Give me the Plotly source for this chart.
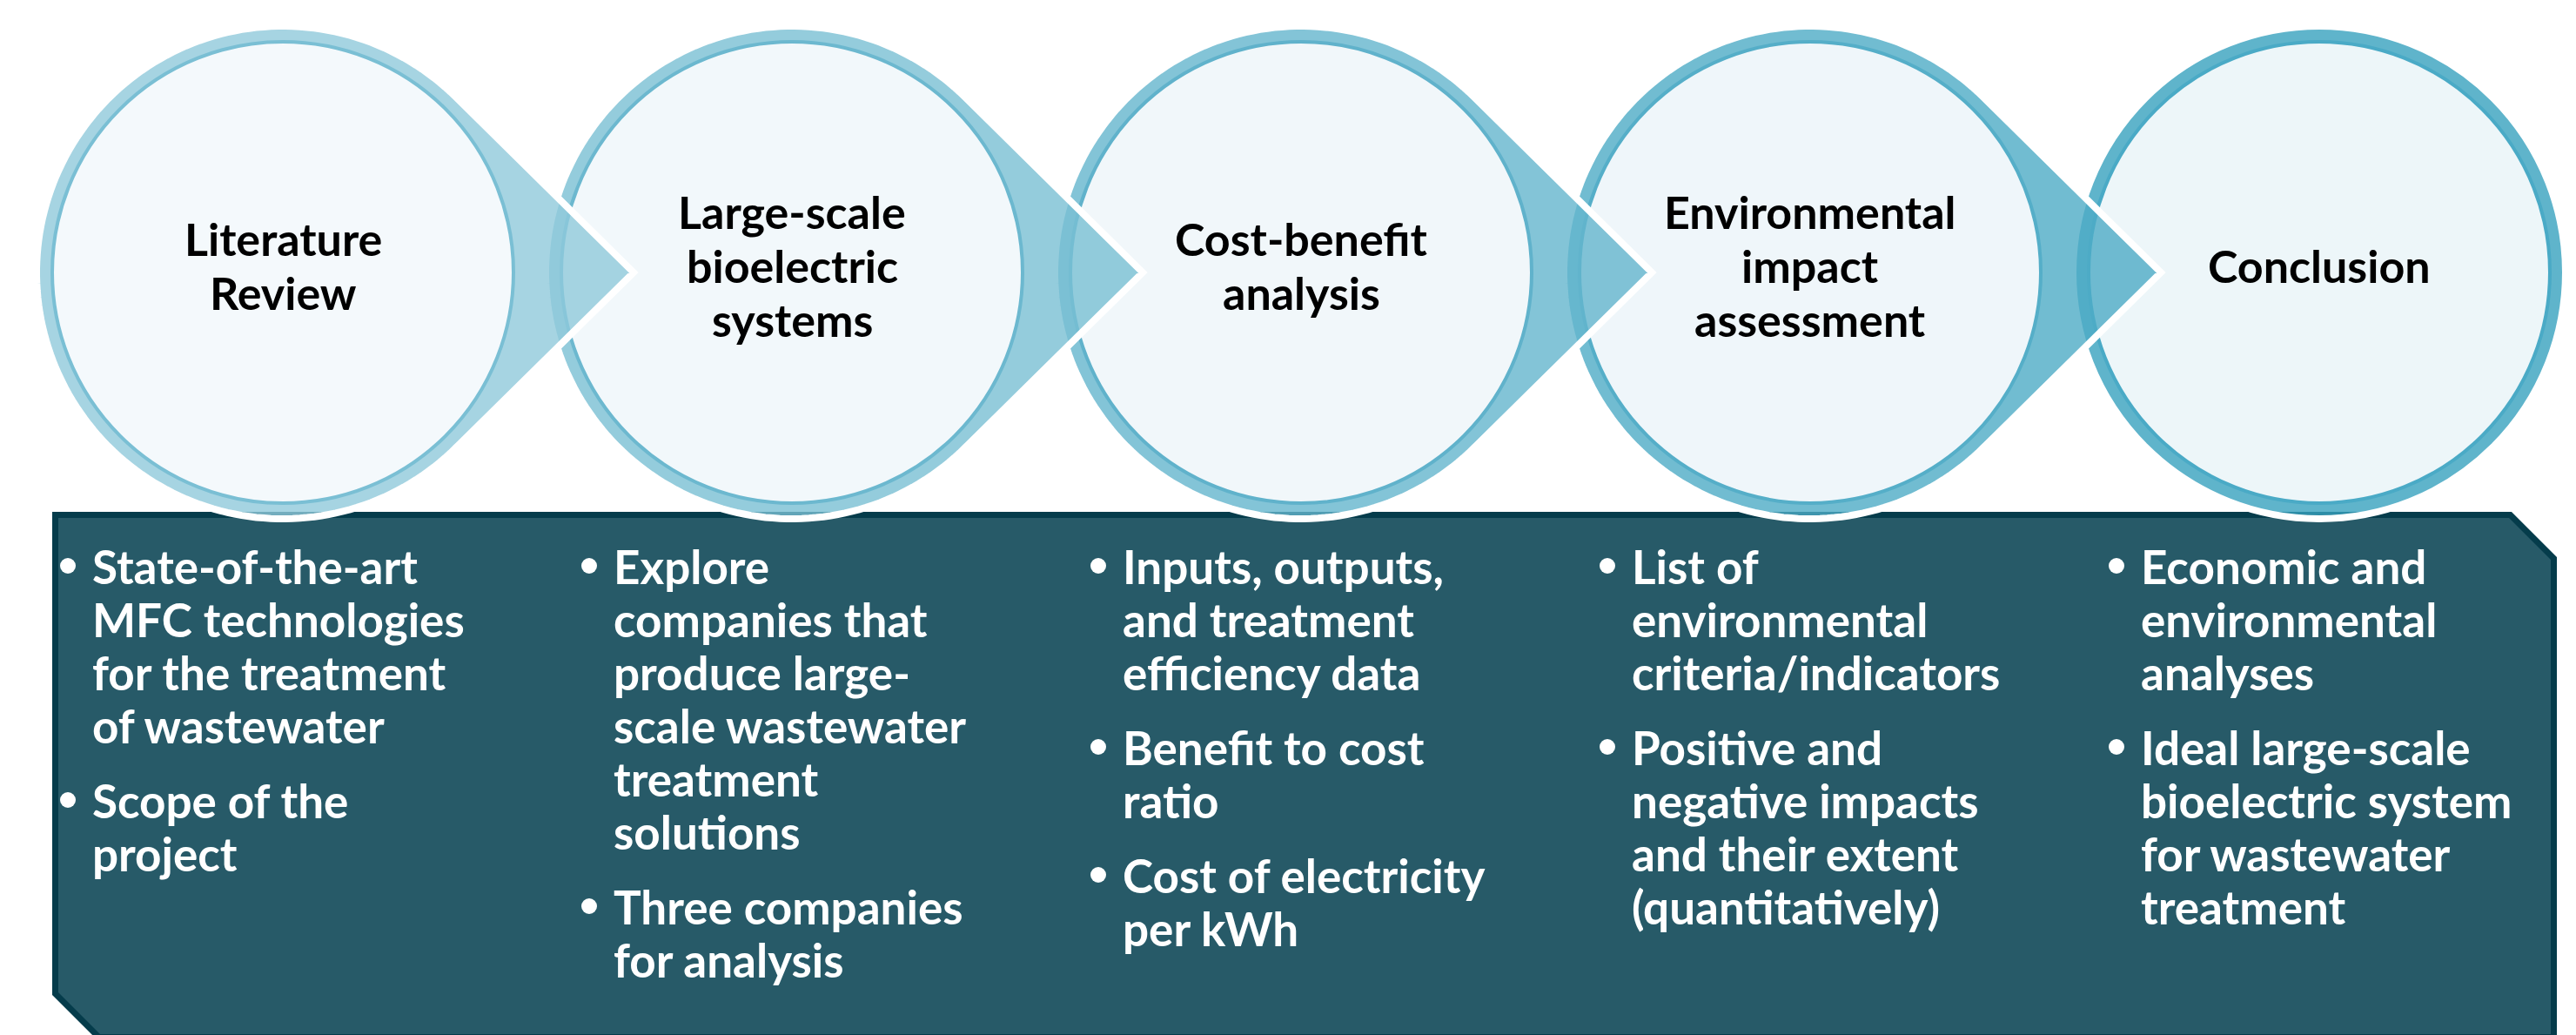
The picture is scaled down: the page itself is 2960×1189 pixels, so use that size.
import numpy as np
import plotly.graph_objects as go


#
# data
#

stages = [["Literature", "Review"],
          ["Large-scale", "bioelectric", "systems"],
          ["Cost-benefit", "analysis"],
          ["Environmental", "impact", "assessment"],
          ["Conclusion"]]

# bullet items per stage, each item is a list of wrapped lines
items_1 = [["State-of-the-art", "MFC technologies", "for the treatment", "of wastewater"],
           ["Scope of the", "project"]]
items_2 = [["Explore", "companies that", "produce large-", "scale wastewater", "treatment", "solutions"],
           ["Three companies", "for analysis"]]
items_3 = [["Inputs, outputs,", "and treatment", "efficiency data"],
           ["Benefit to cost", "ratio"],
           ["Cost of electricity", "per kWh"]]
items_4 = [["List of", "environmental", "criteria/indicators"],
           ["Positive and", "negative impacts", "and their extent", "(quantitatively)"]]
items_5 = [["Economic and", "environmental", "analyses"],
           ["Ideal large-scale", "bioelectric system", "for wastewater", "treatment"]]
items = [items_1, items_2, items_3, items_4, items_5]

ring_colors = [(166, 212, 226), (148, 204, 220), (131, 196, 215), (113, 188, 209), (95, 180, 203)]
edge_colors = [(122, 191, 212), (108, 184, 207), (96, 178, 203), (85, 174, 200), (74, 170, 198)]
fill_colors = [(244, 249, 252), (242, 248, 251), (241, 247, 250), (239, 246, 250), (237, 246, 249)]


#
# layout constants (pixels)
#
W, H = 2960, 1189
CX0, STEP, CY = 317, 585, 305
R, R_IN, TIP = 283, 265, 403
FONT = "Lato"
FS_TITLE = 52
TITLE_LINE = 62
FS = 53
LINE = 61
ITEM_GAP = 25
TEXT_Y0 = 642
COL_SHIFT = [-14, 0, 0, 0, 0]
BOX = dict(x0=55.5, y0=583.5, x1=2926.5, y1=1183.5, cut=50)


def rgba(c, a):
    # colour that looks like c on white when drawn with alpha a
    return "rgba(%d,%d,%d,%.2f)" % tuple([max(0, round(255 - (255 - v) / a)) for v in c] + [a])


def teardrop(cx, cy, r, d):
    th = np.arccos(r / d)
    ang = np.linspace(-th, -2 * np.pi + th, 160)
    pts = [(cx + d, cy)] + [(cx + r * np.cos(a), cy + r * np.sin(a)) for a in ang]
    return "M " + " L ".join("%.1f,%.1f" % p for p in pts) + " Z"


fig = go.Figure()
shapes = []
annotations = []

# dark box behind everything
b = BOX
box_path = "M {x0},{y0} L {a},{y0} L {x1},{b} L {x1},{y1} L {c},{y1} L {x0},{d} Z".format(
    x0=b["x0"], y0=b["y0"], x1=b["x1"], y1=b["y1"],
    a=b["x1"] - b["cut"], b=b["y0"] + b["cut"], c=b["x0"] + b["cut"], d=b["y1"] - b["cut"])
shapes.append(dict(type="path", path=box_path, fillcolor="#275A68",
                   line=dict(color="#053C4B", width=7)))

# teardrops drawn last-to-first so each arrow sits over the next circle
n = len(stages)
for i in reversed(range(n)):
    cx = CX0 + i * STEP
    if i < n - 1:
        shapes.append(dict(type="path", path=teardrop(cx, CY, R, TIP),
                           fillcolor=rgba(ring_colors[i], 0.8),
                           line=dict(color="white", width=8)))
    else:
        # last stage has no arrow
        shapes.append(dict(type="circle", x0=cx - R, x1=cx + R, y0=CY - R, y1=CY + R,
                           fillcolor=rgba(ring_colors[i], 0.8),
                           line=dict(color="white", width=8)))
    shapes.append(dict(type="circle", x0=cx - R_IN, x1=cx + R_IN, y0=CY - R_IN, y1=CY + R_IN,
                       fillcolor="rgb(%d,%d,%d)" % fill_colors[i],
                       line=dict(color="rgb(%d,%d,%d)" % edge_colors[i], width=4)))

# stage titles, one annotation per line
for i, lines in enumerate(stages):
    y = CY - 8 - (len(lines) - 1) * TITLE_LINE / 2
    for ln in lines:
        annotations.append(dict(x=CX0 + i * STEP, y=y, text="<b>%s</b>" % ln, showarrow=False,
                                xanchor="center", yanchor="middle",
                                font=dict(family=FONT, size=FS_TITLE, color="black")))
        y += TITLE_LINE

# bullets
for i, col in enumerate(items):
    cx = CX0 + i * STEP + COL_SHIFT[i]
    y = TEXT_Y0
    for it in col:
        shapes.append(dict(type="circle", x0=cx - 242, x1=cx - 224, y0=y - 9, y1=y + 9,
                           fillcolor="white", line=dict(width=0)))
        for ln in it:
            annotations.append(dict(x=cx - 207, y=y, text="<b>%s</b>" % ln, showarrow=False,
                                    xanchor="left", yanchor="middle",
                                    font=dict(family=FONT, size=FS, color="white")))
            y += LINE
        y += ITEM_GAP

fig.update_layout(
    width=W, height=H, autosize=False,
    margin=dict(l=0, r=0, t=0, b=0, pad=0),
    paper_bgcolor="white", plot_bgcolor="white",
    xaxis=dict(range=[0, W], visible=False, fixedrange=True),
    yaxis=dict(range=[H, 0], visible=False, fixedrange=True),
    shapes=shapes, annotations=annotations, showlegend=False,
)

fig.write_html("out.html", config=dict(displayModeBar=False))
